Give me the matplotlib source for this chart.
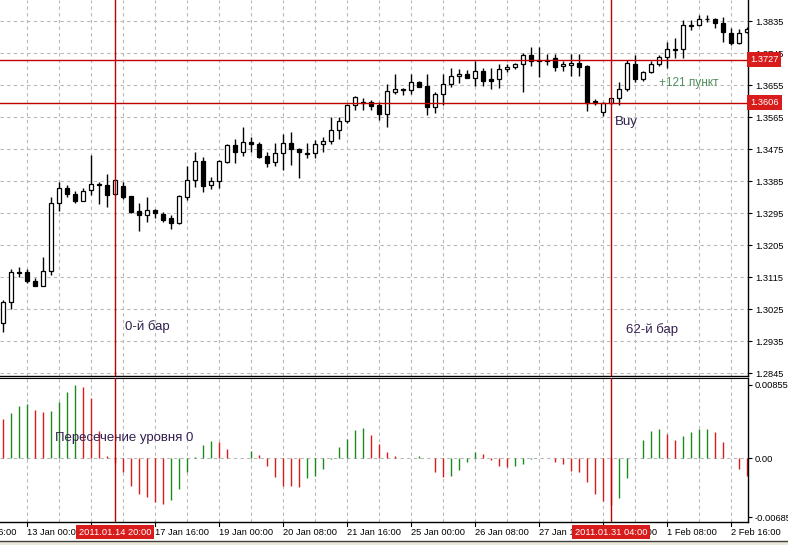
import numpy as np
import matplotlib
matplotlib.use("Agg")
import matplotlib.pyplot as plt
from matplotlib.patches import Rectangle
from matplotlib.transforms import blended_transform_factory

plt.rcParams['font.family'] = ['Liberation Sans', 'DejaVu Sans']

# H4 bars, index 0 = "0-й бар" (2011.01.14 20:00), leftmost visible bar is -14
first_bar = -14

opens = [
    1.2986, 1.3045, 1.3130, 1.3130, 1.3104, 1.3090, 1.3132, 1.3324, 1.3366, 1.3349,
    1.3329, 1.3360, 1.3377, 1.3374, 1.3349, 1.3371, 1.3343, 1.3301, 1.3290, 1.3304,
    1.3293, 1.3281, 1.3267, 1.3341, 1.3388, 1.3442, 1.3374, 1.3386, 1.3440, 1.3487,
    1.3467, 1.3495, 1.3490, 1.3456, 1.3439, 1.3464, 1.3492, 1.3476, 1.3464, 1.3464,
    1.3490, 1.3498, 1.3529, 1.3554, 1.3599, 1.3608, 1.3608, 1.3599, 1.3574, 1.3636,
    1.3644, 1.3641, 1.3664, 1.3653, 1.3594, 1.3630, 1.3658, 1.3681, 1.3686, 1.3675,
    1.3695, 1.3672, 1.3672, 1.3701, 1.3706, 1.3715, 1.3740, 1.3726, 1.3726, 1.3731,
    1.3709, 1.3712, 1.3717, 1.3709, 1.3611, 1.3580, 1.3606, 1.3619, 1.3644, 1.3715,
    1.3672, 1.3692, 1.3715, 1.3734, 1.3757, 1.3757, 1.3822, 1.3824, 1.3840, 1.3841,
    1.3830, 1.3802, 1.3774, 1.3806,
]
highs = [
    1.3051, 1.3138, 1.3144, 1.3138, 1.3113, 1.3172, 1.3341, 1.3383, 1.3374, 1.3357,
    1.3366, 1.3459, 1.3383, 1.3405, 1.3391, 1.3383, 1.3344, 1.3324, 1.3341, 1.3307,
    1.3298, 1.3290, 1.3346, 1.3428, 1.3467, 1.3453, 1.3397, 1.3445, 1.3490, 1.3504,
    1.3537, 1.3509, 1.3495, 1.3467, 1.3492, 1.3518, 1.3523, 1.3477, 1.3492, 1.3501,
    1.3509, 1.3566, 1.3566, 1.3602, 1.3625, 1.3619, 1.3613, 1.3608, 1.3658, 1.3686,
    1.3647, 1.3686, 1.3667, 1.3686, 1.3636, 1.3686, 1.3703, 1.3701, 1.3698, 1.3723,
    1.3703, 1.3703, 1.3715, 1.3715, 1.3717, 1.3746, 1.3762, 1.3762, 1.3743, 1.3743,
    1.3723, 1.3743, 1.3743, 1.3712, 1.3616, 1.3608, 1.3619, 1.3664, 1.3726, 1.3740,
    1.3695, 1.3723, 1.3740, 1.3776, 1.3788, 1.3838, 1.3838, 1.3852, 1.3852, 1.3844,
    1.3847, 1.3816, 1.3813, 1.3819,
]
lows = [
    1.2961, 1.3026, 1.3116, 1.3099, 1.3089, 1.3089, 1.3121, 1.3301, 1.3341, 1.3324,
    1.3328, 1.3346, 1.3321, 1.3312, 1.3346, 1.3335, 1.3296, 1.3245, 1.3270, 1.3281,
    1.3270, 1.3251, 1.3266, 1.3332, 1.3369, 1.3355, 1.3363, 1.3366, 1.3436, 1.3436,
    1.3456, 1.3467, 1.3450, 1.3425, 1.3428, 1.3416, 1.3431, 1.3394, 1.3450, 1.3450,
    1.3467, 1.3490, 1.3504, 1.3549, 1.3585, 1.3585, 1.3585, 1.3557, 1.3537, 1.3630,
    1.3627, 1.3630, 1.3649, 1.3571, 1.3577, 1.3599, 1.3650, 1.3661, 1.3674, 1.3653,
    1.3653, 1.3644, 1.3647, 1.3692, 1.3701, 1.3636, 1.3709, 1.3678, 1.3712, 1.3695,
    1.3695, 1.3681, 1.3681, 1.3582, 1.3599, 1.3568, 1.3602, 1.3599, 1.3639, 1.3664,
    1.3667, 1.3689, 1.3709, 1.3703, 1.3731, 1.3731, 1.3810, 1.3822, 1.3833, 1.3816,
    1.3776, 1.3768, 1.3771, 1.3802,
]
closes = [
    1.3045, 1.3130, 1.3127, 1.3104, 1.3090, 1.3132, 1.3324, 1.3366, 1.3349, 1.3329,
    1.3357, 1.3377, 1.3373, 1.3346, 1.3388, 1.3341, 1.3298, 1.3290, 1.3304, 1.3296,
    1.3276, 1.3267, 1.3343, 1.3388, 1.3442, 1.3371, 1.3386, 1.3442, 1.3487, 1.3467,
    1.3495, 1.3490, 1.3453, 1.3436, 1.3464, 1.3492, 1.3476, 1.3467, 1.3461, 1.3490,
    1.3498, 1.3529, 1.3554, 1.3599, 1.3622, 1.3605, 1.3596, 1.3574, 1.3639, 1.3644,
    1.3641, 1.3664, 1.3650, 1.3594, 1.3630, 1.3658, 1.3681, 1.3686, 1.3675, 1.3695,
    1.3667, 1.3668, 1.3701, 1.3706, 1.3715, 1.3740, 1.3723, 1.3724, 1.3723, 1.3706,
    1.3715, 1.3717, 1.3706, 1.3605, 1.3605, 1.3606, 1.3618, 1.3644, 1.3717, 1.3672,
    1.3692, 1.3715, 1.3734, 1.3757, 1.3754, 1.3824, 1.3823, 1.3841, 1.3841, 1.3830,
    1.3805, 1.3774, 1.3802, 1.3813,
]

# oscillator histogram (same bars)
osc_before = 0.0049
osc = [
    0.00455, 0.00525, 0.00607, 0.00630, 0.00560, 0.00537, 0.00548, 0.00654, 0.00770, 0.008554,
    0.00829, 0.00700, 0.00315, 0.00023, -0.00060, -0.00163, -0.00327, -0.00420, -0.00455, -0.00513,
    -0.00537, -0.00490, -0.00362, -0.00163, 0.00012, 0.00152, 0.00198, 0.00187, 0.00105, 0.00004,
    0.00002, 0.00082, 0.00035, -0.00093, -0.00222, -0.00321, -0.00326, -0.00330, -0.00233, -0.00210,
    -0.00128, -0.00005, 0.00128, 0.00222, 0.00327, 0.00350, 0.00268, 0.00163, 0.00070, 0.00023,
    0.00005, 0.00003, 0.00023, 0.00002, -0.00163, -0.00222, -0.00210, -0.00140, -0.00047, 0.00070,
    0.00047, -0.00023, -0.00093, -0.00097, -0.00090, -0.00070, -0.00005, 0.00002, 0.00001, -0.00047,
    -0.00070, -0.00152, -0.00163, -0.00280, -0.00420, -0.00502, -0.00540, -0.00467, -0.00233, 0.00005,
    0.00210, 0.00315, 0.00338, 0.00280, 0.00210, 0.00257, 0.00303, 0.00343, 0.00347, 0.00303,
    0.00187, 0.00002, -0.00128, -0.00210,
]

price_ticks = [1.2845, 1.2935, 1.3025, 1.3115, 1.3205, 1.3295, 1.3385,
               1.3475, 1.3565, 1.3655, 1.3745, 1.3835]
osc_ticks = [-0.006853, 0.0, 0.008554]
osc_tick_labels = ["-0.006853", "0.00", "0.008554"]
level_high = 1.3727
level_low = 1.3606
marked_bars = [0, 62]
marked_times = ["2011.01.14 20:00", "2011.01.31 04:00"]
time_tick_bars = [-19, -11, -3, 5, 13, 21, 29, 37, 45, 53, 61, 69, 77]
time_labels = ["11 Jan 16:00", "13 Jan 00:00", "14 Jan 08:00", "17 Jan 16:00",
               "19 Jan 00:00", "20 Jan 08:00", "21 Jan 16:00", "25 Jan 00:00",
               "26 Jan 08:00", "27 Jan 16:00", "31 Jan 00:00", "1 Feb 08:00",
               "2 Feb 16:00"]

bars = np.arange(first_bar, first_bar + len(opens))
RED = "#d81c1c"
LINE_RED = "#c00000"
GREEN = "#1a8a1a"
TXT = "#33204f"
FS = 6.7

fig = plt.figure(figsize=(7.88, 5.45), dpi=100)
W, H = 788.0, 545.0
ax = fig.add_axes([0, 1 - 376 / H, 748 / W, 376 / H])
ax2 = fig.add_axes([0, 1 - 522 / H, 748 / W, 144 / H])

xlim = (-14.375, 79.125)
for a in (ax, ax2):
    a.set_xlim(*xlim)
    a.spines['left'].set_visible(False)
    a.spines['top'].set_visible(False)
    for s in ('right', 'bottom'):
        a.spines[s].set_color('black')
        a.spines[s].set_linewidth(1)
    a.yaxis.tick_right()
    a.tick_params(axis='y', direction='out', length=3, width=0.8, pad=2,
                  labelsize=FS, colors='black')
    a.set_xticks([])
    # vertical grid every 4 bars
    for g in np.arange(-11, 80, 4):
        a.axvline(g, color='#b8b8b8', lw=0.8, ls=(0, (3, 3)), zorder=0)
ax2.spines['top'].set_visible(True)

# main panel
ax.set_ylim(1.28371, 1.38946)
ax.set_yticks(price_ticks)
ax.set_yticklabels([f"{p:.4f}" for p in price_ticks])
for p in price_ticks:
    ax.axhline(p, color='#b8b8b8', lw=0.8, ls=(0, (3, 3)), zorder=0)

body_w = 0.6
ax.vlines(bars, lows, highs, color='black', lw=1, zorder=2)
for b, o, c in zip(bars, opens, closes):
    face = 'white' if c >= o else 'black'
    ax.add_patch(Rectangle((b - body_w / 2, min(o, c)), body_w, abs(c - o),
                           facecolor=face, edgecolor='black', lw=0.9, zorder=3))

for lvl in (level_high, level_low):
    ax.axhline(lvl, color=LINE_RED, lw=1, zorder=4)
    ax.text(1.003, lvl, f"{lvl:.4f}", transform=blended_transform_factory(ax.transAxes, ax.transData),
            ha='left', va='center', fontsize=FS, color='white', zorder=10, clip_on=False,
            bbox=dict(boxstyle='square,pad=0.3', fc=RED, ec='none'))

ax.text(1.2, 1.2975, "0-й бар", fontsize=9.5, color=TXT, va='center')
ax.text(63.9, 1.2967, "62-й бар", fontsize=9.5, color=TXT, va='center')
ax.text(62.5, 1.3552, "Buy", fontsize=9.5, color=TXT, va='center')
ax.text(68.0, 1.3661, "+121 пункт", fontsize=8.5, color='#4f8f5c', va='center')

# oscillator panel
ax2.set_ylim(-0.00743, 0.00937)
ax2.set_yticks(osc_ticks)
ax2.set_yticklabels(osc_tick_labels)
ax2.axhline(0, color='#b8b8b8', lw=0.8, ls=(0, (3, 3)), zorder=0)
prev = np.concatenate([[osc_before], osc[:-1]])
cols = [GREEN if v >= p else RED for v, p in zip(osc, prev)]
ax2.vlines(bars, 0, osc, colors=cols, lw=1.0, zorder=2)
ax2.text(-7.5, 0.00237, "Пересечение уровня 0", fontsize=9.5, color=TXT, va='center')

# time axis
tr = blended_transform_factory(ax2.transData, ax2.transAxes)
for tb, lab in zip(time_tick_bars, time_labels):
    ax2.text(tb, -0.07, lab, transform=tr, ha='left', va='center', fontsize=FS,
             clip_on=False)
    if xlim[0] < tb < xlim[1]:
        ax2.plot([tb, tb], [0, -0.025], transform=tr, color='black', lw=0.8, clip_on=False)

for mb, mt in zip(marked_bars, marked_times):
    for a in (ax, ax2):
        a.axvline(mb, color=LINE_RED, lw=1, zorder=5)
    ax2.text(mb, -0.07, mt, transform=tr, ha='center', va='center', fontsize=FS,
             color='white', zorder=10, clip_on=False,
             bbox=dict(boxstyle='square,pad=0.3', fc=RED, ec='none'))

# bottom strip
fig.patches.append(Rectangle((0, 0), 1, 4 / H, transform=fig.transFigure,
                             facecolor='#ece9d8', edgecolor='none'))
fig.lines.append(plt.Line2D([0, 1], [4.5 / H, 4.5 / H], transform=fig.transFigure,
                            color='#404040', lw=1))

fig.savefig("out.png", dpi=100)
